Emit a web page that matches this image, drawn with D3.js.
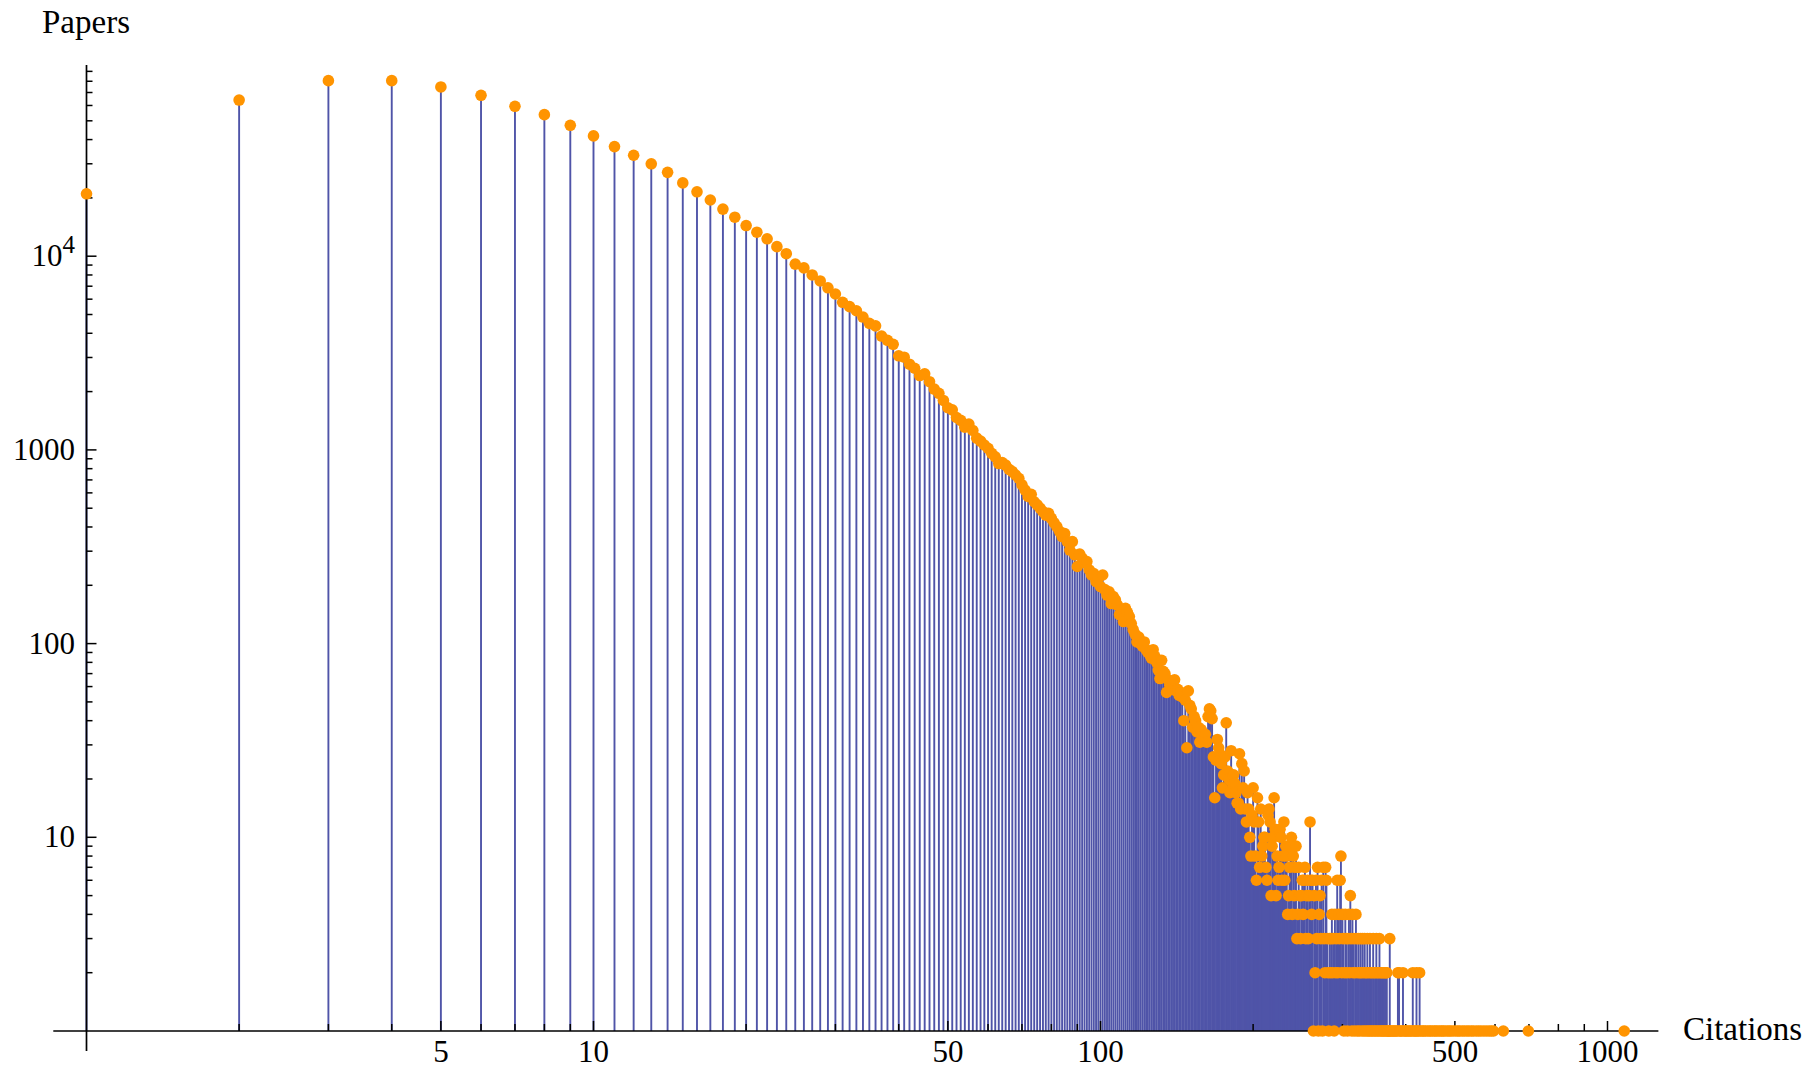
<!DOCTYPE html>
<html>
<head>
<meta charset="utf-8">
<script src="https://cdn.jsdelivr.net/npm/d3@7"></script>
<style>
  html, body { margin: 0; padding: 0; background: #fff; }
  svg { display: block; }
  text { font-family: "Liberation Serif", "Times New Roman", serif; fill: #000; }
</style>
</head>
<body>
<svg id="chart" width="1805" height="1071"></svg>
<script>
// ---- data: [citations, papers] ----
const countsHead = [
  [1,21000],[2,64000],[3,80600],[4,80600],[5,74800],[6,67700],[7,59400],[8,53800],[9,47400],[10,41800],
  [11,36800],[12,33200],[13,30000],[14,27100],[15,23900],[16,21500],[17,19500],[18,17500],[19,15900],[20,14400],
  [21,13300],[22,12300],[23,11200],[24,10300],[25,9100],[26,8700],[27,8000],[28,7450],[29,6870],[30,6380],
  [31,5780],[32,5490],[33,5230],[34,4850],[35,4500],[36,4370],[37,3870],[38,3680],[39,3510],[40,3060],
  [41,3010],[42,2770],[43,2640],[44,2420],[45,2470],[46,2250],[47,2060],[48,1960],[49,1800],[50,1650],
  [51,1610],[52,1470],[53,1420],[54,1310],[55,1360],[56,1260],[57,1150],[58,1110],[59,1060],[60,1020],
  [61,960],[62,920],[63,850],[64,860],[65,835],[66,794],[67,772],[68,742],[69,713]
];
const countsMid = [
  [70,660],[71,620],[72,575],[73,590],[74,540],[75,520],[76,500],[77,480],[78,460],[79,470],
  [80,443],[81,420],[82,402],[83,380],[84,357],[85,370],[86,336],[87,304],[88,336],[89,287],
  [90,250],[91,290],[92,276],[93,262],[94,265],[95,240],[96,226],[97,230],[98,209],[99,218],
  [100,197],[101,226],[102,190],[103,178],[104,185],[105,161],[106,175],[107,168],[108,158],[109,141],
  [110,150],[111,130],[112,152],[113,145],[114,138],[115,127],[116,118],[117,112],[118,102],[119,108],
  [120,100],[121,97],[122,102],[123,93],[124,90],[125,88],[126,84],[127,93],[128,86],[129,80],
  [130,73],[131,66],[132,82],[133,72],[134,70],[135,56],[136,65],[137,61],[138,60],[139,58],
  [140,65],[141,57],[142,58],[143,54],[144,56],[145,53]
];
const countsTail = [
  [146,40],[147,51],[148,29],[149,57],[150,48],[151,46],[152,37],[153,42],[154,40],[155,35],
  [156,37],[157,31],[158,36],[159,33],[160,32],[161,34],[162,31],[163,42],[164,46],[165,45],
  [166,41],[167,26],[168,16],[169,25],[170,32],[171,29],[172,27],[173,24],[174,18],[175,21],
  [176,26],[177,39],[178,22],[179,20],[180,17],[181,28],[182,19],[183,21],[184,19],[185,17],
  [186,15],[187,15],[188,27],[189,14],[190,24],[191,18],[192,22],[193,14],[194,12],[195,17],
  [196,14],[197,10],[198,8],[199,13],[200,18],[201,12],[202,8],[203,6],[204,16],[205,12],
  [206,7],[207,14],[208,8],[209,9],[210,10],[211,10],[212,7],[213,6],[214,13],[215,14],
  [216,12],[217,5],[218,9],[219,10],[220,16],[221,11],[222,5],[223,8],[224,6],[225,7],
  [226,11],[227,10],[228,6],[229,8],[230,12],[231,6],[232,9],[233,8],[234,4],[235,5],
  [236,7],[237,9],[238,10],[239,4],[240,8],[241,5],[242,7],[243,9],[244,3],[245,4],
  [246,7],[247,5],[248,3],[249,5],[250,6],[251,4],[252,6],[253,7],[254,3],[255,5],
  [256,6],[257,3],[258,5],[259,12],[260,6],[261,4],[262,6],[264,5],[265,2],[266,6],
  [267,3],[268,7],[270,4],[271,5],[272,3],[273,6],[275,7],[276,3],[277,2],[278,7],
  [279,6],[280,3],[281,2],[283,3],[284,2],[285,3],[286,4],[287,2],[288,3],[290,4],
  [291,2],[292,3],[293,6],[294,2],[295,4],[296,3],[297,6],[298,8],[299,2],[300,4],
  [301,3],[303,2],[304,4],[305,3],[306,2],[308,3],[309,4],[310,2],[311,5],[312,3],
  [314,4],[315,2],[316,3],[318,2],[319,4],[320,3],[322,2],[323,3],[325,2],[326,3],
  [327,2],[329,3],[330,2],[332,3],[333,2],[335,2],[336,3],[338,2],[340,3],[341,2],
  [343,2],[345,3],[346,2],[348,2],[350,3],[351,2],[353,2],[355,3],[356,2],[358,2],
  [360,2],[362,2],[364,2],[366,2],[367,2],[372,3],[386,2],[388,2],[395,2],[413,2],
  [420,2],[426,2]
];
// citation counts that have exactly one paper
const singlePaperCitations = [
  263,269,274,282,289,302,307,313,317,321,324,328,331,334,337,339,342,344,347,349,
  352,354,357,359,361,363,365,368,369,370,371,373,375,377,379,381,383,385,389,391,
  393,397,399,401,404,406,409,411,415,417,419,422,424,428,431,434,437,441,445,448,
  452,456,459,463,467,471,474,478,483,487,491,496,502,507,511,517,522,528,533,539,
  544,551,557,563,570,577,584,590,596,623,698,1079
];
const xTickLabels = [5, 10, 50, 100, 500, 1000];
const yTickLabels = [10, 100, 1000, 10000];
const xAxisTitle = "Citations";
const yAxisTitle = "Papers";

// ---- build ----
const data = countsHead.concat(countsMid, countsTail,
  singlePaperCitations.map(c => [c, 1]));

const svg = d3.select("#chart");
const x = d3.scaleLog().domain([1, 1000]).range([86.5, 1607.5]);
const y = d3.scaleLog().domain([1, 10000]).range([1031, 256.2]);

const xLineMin = 0.86, xLineMax = 1260;
const yLineTop = 97000;

const stemColor = "#4f54a8";
const dotColor = "#ff9400";

// stems
svg.append("g").selectAll("line").data(data.filter(d => d[1] > 1)).join("line")
  .attr("x1", d => x(d[0])).attr("x2", d => x(d[0]))
  .attr("y1", d => y(d[1])).attr("y2", y(1))
  .attr("stroke", stemColor).attr("stroke-width", 1.9);

// axes
const ax = svg.append("g").attr("stroke", "#000");
ax.append("line").attr("x1", x(xLineMin)).attr("x2", x(xLineMax))
  .attr("y1", y(1)).attr("y2", y(1)).attr("stroke-width", 1.7);
ax.append("line").attr("x1", x(1)).attr("x2", x(1))
  .attr("y1", y(yLineTop)).attr("y2", y(1) + 20).attr("stroke-width", 1.7);

const xTicks = x.ticks();
ax.selectAll(".xt").data(xTicks.filter(t => t > 1)).join("line")
  .attr("x1", d => x(d)).attr("x2", d => x(d))
  .attr("y1", y(1)).attr("y2", d => y(1) - (xTickLabels.includes(d) ? 10 : 7))
  .attr("stroke-width", 1.5);

const yTicks = d3.scaleLog().domain([1, 90000]).ticks();
ax.selectAll(".yt").data(yTicks.filter(t => t > 1)).join("line")
  .attr("y1", d => y(d)).attr("y2", d => y(d))
  .attr("x1", x(1)).attr("x2", d => x(1) + (yTickLabels.includes(d) ? 10 : 6))
  .attr("stroke-width", 1.5);

// tick labels
svg.append("g").selectAll("text").data(xTickLabels).join("text")
  .attr("x", d => x(d)).attr("y", 1062)
  .attr("text-anchor", "middle").attr("font-size", 31)
  .text(d => d);

const yl = svg.append("g").selectAll("text").data(yTickLabels).join("text")
  .attr("x", 75).attr("y", d => y(d) + 10)
  .attr("text-anchor", "end").attr("font-size", 31);
yl.each(function(d) {
  const t = d3.select(this);
  if (d >= 10000) {
    t.append("tspan").text("10");
    t.append("tspan").attr("font-size", 25).attr("dy", -13).text(String(Math.round(Math.log10(d))));
  } else {
    t.text(d);
  }
});

// axis titles
svg.append("text").attr("x", 42).attr("y", 33).attr("font-size", 33).text(yAxisTitle);
svg.append("text").attr("x", 1683).attr("y", 1040).attr("font-size", 33).text(xAxisTitle);

// points
svg.append("g").selectAll("circle").data(data).join("circle")
  .attr("cx", d => x(d[0])).attr("cy", d => y(d[1]))
  .attr("r", 5.8).attr("fill", dotColor);
</script>
</body>
</html>
